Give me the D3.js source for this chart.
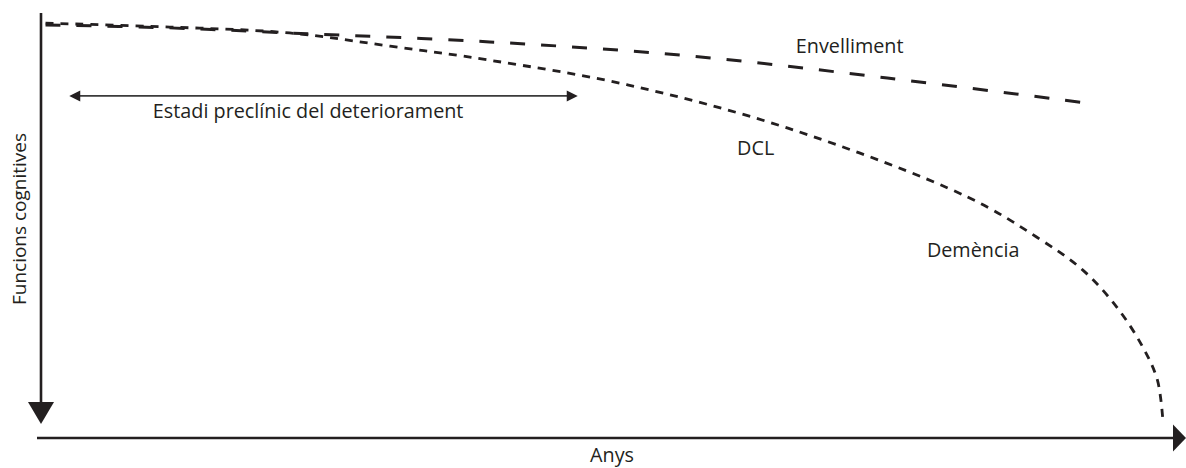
<!DOCTYPE html>
<html>
<head>
<meta charset="utf-8">
<script src="https://cdn.jsdelivr.net/npm/d3@7"></script>
<style>
  html, body { margin: 0; padding: 0; background: #fff; }
  svg text { font-family: "Open Sans", "Noto Sans", sans-serif; fill: #231f20; }
</style>
</head>
<body>
<svg id="chart" width="1186" height="468"></svg>
<script>
// ---- data (x: years, 0-100; y: cognitive function, 0-100) ----
const envellimentX = [0.4, 11.4, 22.0, 39.7, 57.4, 74.9, 92.6];
const envellimentY = [97.2, 96.5, 95.3, 93.2, 89.9, 84.7, 78.8];

const dclX = [0.4, 11.4, 22.0, 30.9, 39.7, 51.9, 66.1, 82.0, 88.1, 92.2, 95.2, 97.5, 98.8, 99.3];
const dclY = [97.6, 96.7, 95.3, 92.2, 88.9, 83.1, 72.9, 56.7, 47.3, 39.5, 30.8, 21.4, 13.6, 3.5];

const preclinicRange = [2.5, 47.5];   // years spanned by the preclinical stage arrow
const preclinicLevel = 80.5;

const axisLabels = { x: "Anys", y: "Funcions cognitives" };
const curveLabels = [
  { text: "Envelliment", x: 66.8, y: 90.6 },
  { text: "Estadi preclínic del deteriorament", x: 9.9, y: 75.3 },
  { text: "DCL", x: 61.6, y: 66.6 },
  { text: "Demència", x: 78.4, y: 42.6 }
];

// ---- scales ----
const svg = d3.select("#chart");
const x = d3.scaleLinear().domain([0, 100]).range([41, 1171]);
const y = d3.scaleLinear().domain([0, 100]).range([438, 13]);
const ink = "#231f20";
const fs = 19.8;

// ---- axes ----
// y axis (pointing down)
svg.append("line")
  .attr("x1", x(0)).attr("x2", x(0))
  .attr("y1", y(100)).attr("y2", y(8.5))
  .attr("stroke", ink).attr("stroke-width", 2.6);
svg.append("path")
  .attr("d", d3.line()([[x(0) - 13, y(8.5)], [x(0) + 13, y(8.5)], [x(0), y(3.3)]]) + "Z")
  .attr("fill", ink);
// x axis (pointing right)
svg.append("line")
  .attr("x1", x(0) - 4).attr("x2", x(100) + 3)
  .attr("y1", y(0)).attr("y2", y(0))
  .attr("stroke", ink).attr("stroke-width", 2.6);
svg.append("path")
  .attr("d", d3.line()([[x(100) + 2, y(0) - 13.5], [x(100) + 2, y(0) + 13.5], [x(100) + 15, y(0)]]) + "Z")
  .attr("fill", ink);

// axis titles
svg.append("text")
  .attr("x", 612).attr("y", 462)
  .attr("text-anchor", "middle")
  .attr("font-size", fs)
  .text(axisLabels.x);
svg.append("text")
  .attr("transform", "translate(26,219) rotate(-90)")
  .attr("text-anchor", "middle")
  .attr("font-size", 19)
  .text(axisLabels.y);

// ---- curves ----
const line = d3.line()
  .x(d => x(d[0])).y(d => y(d[1]))
  .curve(d3.curveCatmullRom.alpha(0.5));

svg.append("path")
  .datum(envellimentX.map((v, i) => [v, envellimentY[i]]))
  .attr("d", line)
  .attr("fill", "none")
  .attr("stroke", ink)
  .attr("stroke-width", 3)
  .attr("stroke-dasharray", "15,16");

svg.append("path")
  .datum(dclX.map((v, i) => [v, dclY[i]]))
  .attr("d", line)
  .attr("fill", "none")
  .attr("stroke", ink)
  .attr("stroke-width", 2.8)
  .attr("stroke-dasharray", "8,7");

// ---- preclinical stage double arrow ----
const ay = y(preclinicLevel);
const ax1 = x(preclinicRange[0]), ax2 = x(preclinicRange[1]);
svg.append("line")
  .attr("x1", ax1 + 8).attr("x2", ax2 - 8)
  .attr("y1", ay).attr("y2", ay)
  .attr("stroke", "#3a3a3a").attr("stroke-width", 1.6);
svg.append("path")
  .attr("d", d3.line()([[ax1, ay], [ax1 + 11, ay - 5.5], [ax1 + 11, ay + 5.5]]) + "Z")
  .attr("fill", ink);
svg.append("path")
  .attr("d", d3.line()([[ax2, ay], [ax2 - 11, ay - 5.5], [ax2 - 11, ay + 5.5]]) + "Z")
  .attr("fill", ink);

// ---- labels ----
svg.selectAll("text.lbl")
  .data(curveLabels)
  .enter().append("text")
  .attr("class", "lbl")
  .attr("x", d => x(d.x))
  .attr("y", d => y(d.y))
  .attr("font-size", fs)
  .text(d => d.text);
</script>
</body>
</html>
